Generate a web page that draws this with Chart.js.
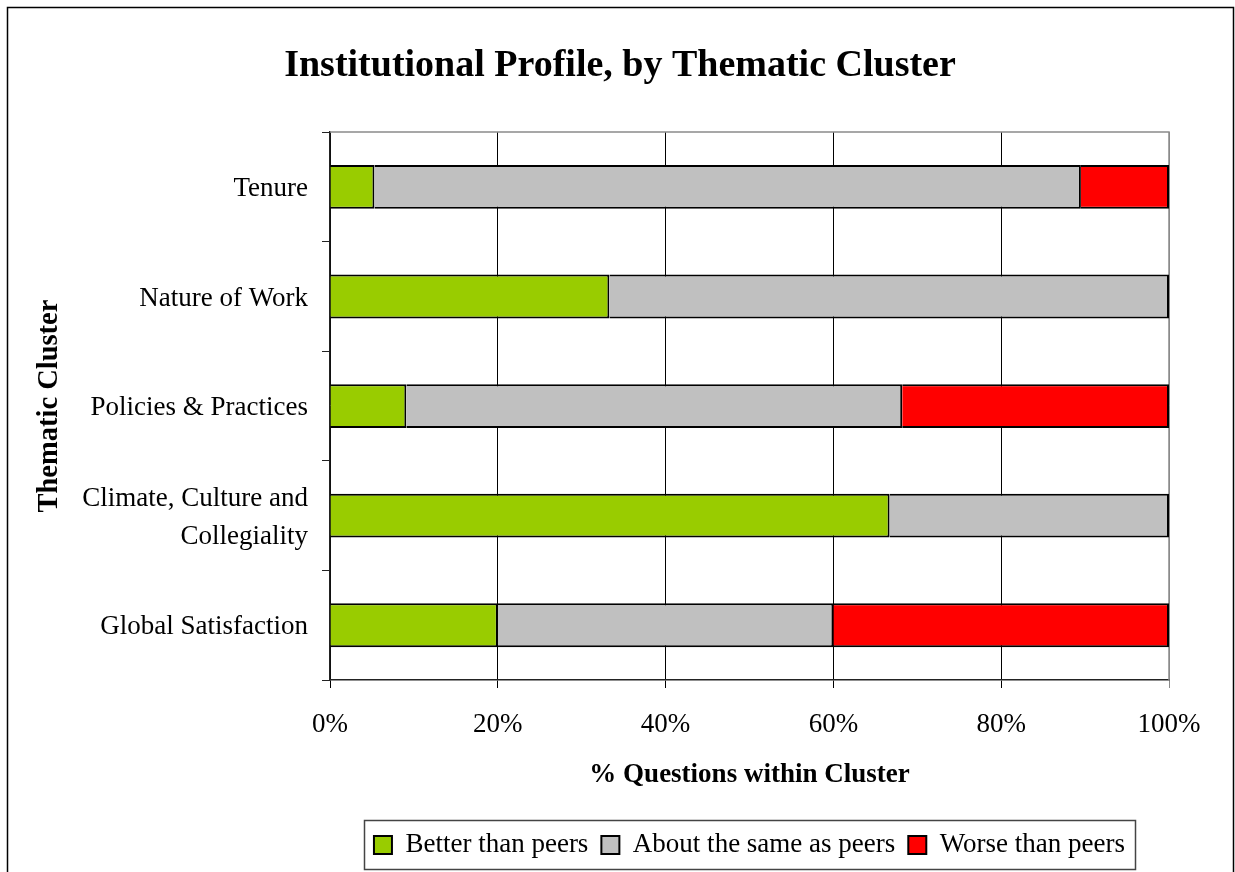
<!DOCTYPE html>
<html>
<head>
<meta charset="utf-8">
<title>Institutional Profile, by Thematic Cluster</title>
<script src="https://cdn.jsdelivr.net/npm/chart.js@4"></script>
<style>
  html, body { margin: 0; padding: 0; background: #fff; }
  canvas { display: block; }
</style>
</head>
<body>
<canvas id="profileChart" width="1235" height="872"></canvas>
<script>
// data (share of questions, %)
const clusters = ["Tenure", "Nature of Work", "Policies & Practices", ["Climate, Culture and", "Collegiality"], "Global Satisfaction"];
const betterThanPeers = [5.3, 33.3, 9.1, 66.7, 20];
const sameAsPeers = [84.2, 66.7, 59.1, 33.3, 40];
const worseThanPeers = [10.5, 0, 31.8, 0, 40];
const xTicks = [0, 20, 40, 60, 80, 100];

const serif = "'Liberation Serif', 'Times New Roman', serif";

// frame round the whole chart, gray box round the plot, box round the legend
const framePlugin = {
  id: "frames",
  afterLayout(chart) {
    // title is centred on the page, not on the padded area
    chart.titleBlock.left = 0;
    chart.titleBlock.right = chart.width + 5;
  },
  beforeDraw(chart) {
    const ctx = chart.ctx;
    ctx.save();
    ctx.fillStyle = "#fff";
    ctx.fillRect(0, 0, chart.width, chart.height);
    ctx.strokeStyle = "#000";
    ctx.lineWidth = 1.5;
    ctx.strokeRect(7.5, 7.5, chart.width - 9, chart.height + 20);
    ctx.restore();
  },
  beforeDatasetsDraw(chart) {
    const a = chart.chartArea;
    const ctx = chart.ctx;
    ctx.save();
    ctx.strokeStyle = "#8a8a8a";
    ctx.lineWidth = 1.5;
    ctx.beginPath();
    ctx.moveTo(a.left, a.top);
    ctx.lineTo(a.right, a.top);
    ctx.lineTo(a.right, a.bottom);
    ctx.stroke();
    ctx.restore();
  },
  afterDraw(chart) {
    const boxes = chart.legend.legendHitBoxes;
    if (!boxes || !boxes.length) return;
    const left = Math.min(...boxes.map(b => b.left)) - 10;
    const right = Math.max(...boxes.map(b => b.left + b.width)) + 10;
    const top = boxes[0].top - 12;
    const bottom = boxes[0].top + boxes[0].height + 10;
    const ctx = chart.ctx;
    ctx.save();
    ctx.strokeStyle = "#444";
    ctx.lineWidth = 1.5;
    ctx.strokeRect(Math.round(left) + 0.5, Math.round(top) + 0.5, Math.round(right - left), Math.round(bottom - top));
    ctx.restore();
  }
};

const ctx = document.getElementById("profileChart").getContext("2d");
new Chart(ctx, {
  type: "bar",
  data: {
    labels: clusters,
    datasets: [
      { label: "Better than peers", data: betterThanPeers, backgroundColor: "#99cc00" },
      { label: "About the same as peers", data: sameAsPeers, backgroundColor: "#c0c0c0" },
      { label: "Worse than peers", data: worseThanPeers, backgroundColor: "#ff0000" }
    ].map(d => Object.assign(d, {
      borderColor: "#000",
      borderWidth: 2,
      barPercentage: 0.4,
      categoryPercentage: 1
    }))
  },
  options: {
    indexAxis: "y",
    responsive: false,
    animation: false,
    devicePixelRatio: 1,
    layout: { padding: { left: 20, right: 66, top: 0, bottom: 3.5 } },
    plugins: {
      title: {
        display: true,
        text: "Institutional Profile, by Thematic Cluster",
        color: "#000",
        font: { family: serif, size: 38, weight: "bold", lineHeight: 1.2 },
        padding: { top: 43, bottom: 43.5 }
      },
      legend: {
        position: "bottom",
        fullSize: false,
        labels: {
          color: "#000",
          font: { family: serif, size: 27 },
          boxWidth: 18,
          boxHeight: 18,
          padding: 13
        }
      },
      tooltip: { enabled: false }
    },
    scales: {
      x: {
        stacked: true,
        min: 0,
        max: 100,
        afterBuildTicks(scale) {
          scale.ticks = xTicks.map(v => ({ value: v }));
        },
        afterFit(scale) {
          scale.height = 138.5;
        },
        ticks: {
          color: "#000",
          font: { family: serif, size: 27 },
          padding: 21,
          callback: v => v + "%"
        },
        grid: {
          color: c => (c.tick && c.tick.value === 100 ? "#8a8a8a" : "#000"),
          lineWidth: 1,
          tickLength: 8
        },
        border: { color: "#222", width: 1.5 },
        title: {
          display: true,
          text: "% Questions within Cluster",
          color: "#000",
          font: { family: serif, size: 27, weight: "bold", lineHeight: 1.2 },
          padding: { top: 0, bottom: 27.3 }
        }
      },
      y: {
        stacked: true,
        afterFit(scale) {
          scale.width = 310;
        },
        ticks: {
          color: "#000",
          font: { family: serif, size: 27, lineHeight: 1.4 },
          padding: 14,
          labelOffset: 2
        },
        grid: {
          drawOnChartArea: false,
          color: "#222",
          tickLength: 8
        },
        border: { color: "#222", width: 1.5 },
        title: {
          display: true,
          text: "Thematic Cluster",
          color: "#000",
          font: { family: serif, size: 28.5, weight: "bold", lineHeight: 1.2 },
          padding: { top: 12.9, bottom: 0 }
        }
      }
    }
  },
  plugins: [framePlugin]
});
</script>
</body>
</html>
